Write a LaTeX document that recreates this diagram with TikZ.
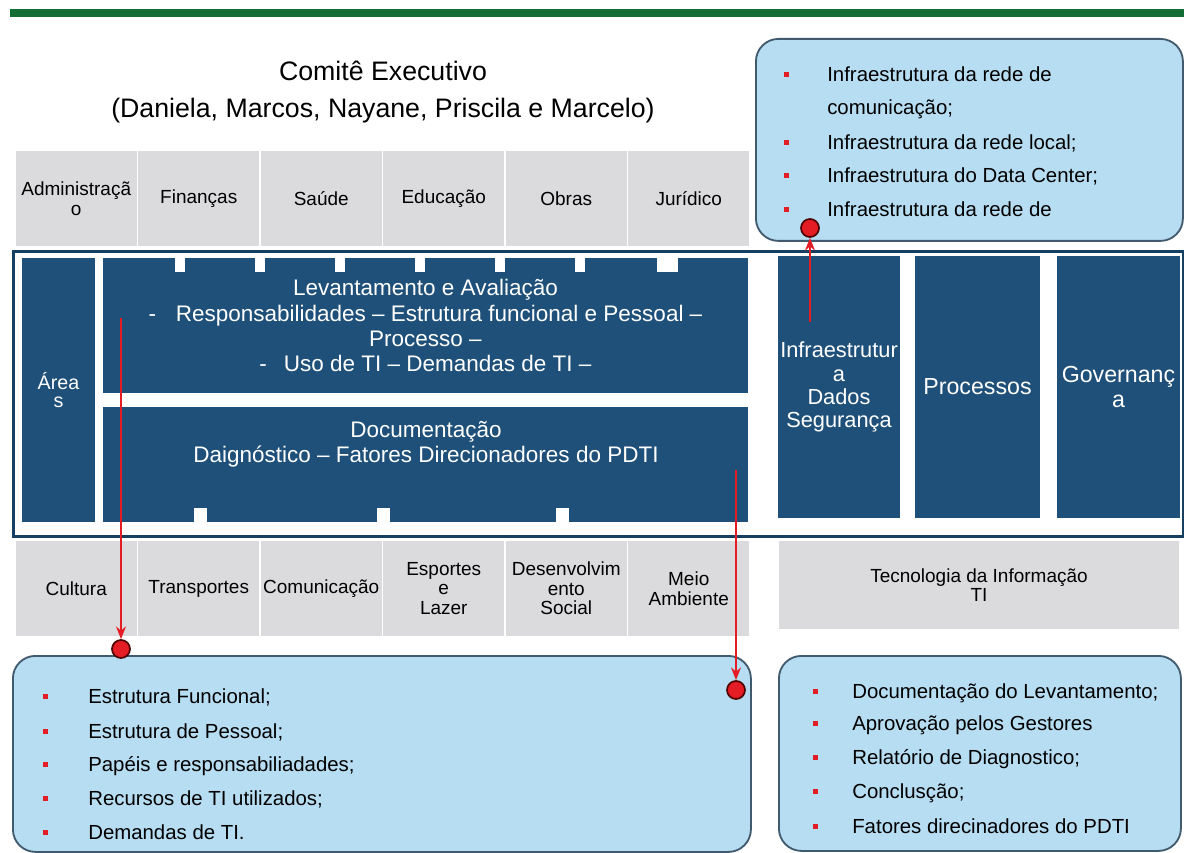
\documentclass[tikz,border=0pt]{standalone}
\usepackage{fontspec}
\setmainfont{Liberation Sans}
\usepackage{tikz}
\usetikzlibrary{arrows.meta,positioning,calc}

\definecolor{pdtiBlue}{RGB}{31,80,121}
\definecolor{frameBlue}{RGB}{22,64,98}
\definecolor{cellGray}{RGB}{219,219,221}
\definecolor{noteBlue}{RGB}{183,221,242}
\definecolor{noteEdge}{RGB}{66,90,110}
\definecolor{topGreen}{RGB}{18,110,52}
\definecolor{markRed}{RGB}{228,28,36}

\newcommand{\pxu}{0.025cm}

\tikzset{
  >=Stealth,
  every node/.append style={font=\fontsize{13.5}{14}\selectfont},
}
\tikzset{
  area/.style={draw=white, line width=1pt, fill=cellGray, outer sep=0pt, align=center,
               inner sep=1pt, minimum width=122.5*\pxu, minimum height=97*\pxu},
  blk/.style={fill=pdtiBlue, text=white, align=center, inner sep=0pt, outer sep=0pt,
              font=\fontsize{16}{17.8}\selectfont},
  notch/.style={fill=white, inner sep=0pt, minimum height=14*\pxu, anchor=north}
}

\begin{document}
\begin{tikzpicture}[
  x=\pxu, y=-\pxu,
  moldura/.style={draw=frameBlue, line width=2.2pt, inner sep=0pt},
  note/.style   ={draw=noteEdge, fill=noteBlue, line width=1.3pt, rounded corners=16pt,
                  inner sep=0pt},
  bullet/.style ={fill=markRed, minimum size=5*\pxu, inner sep=0pt},
  item/.style   ={anchor=base west, inner sep=0pt, font=\fontsize{14.5}{16}\selectfont},
  link/.style   ={-{Stealth[length=9pt,width=7pt]}, draw=markRed, line width=1.6pt},
  hub/.style    ={circle, fill=markRed, draw=red!30!black, line width=1.2pt,
                  minimum size=18*\pxu, inner sep=0pt}
]

\useasboundingbox (0,0) rectangle (1184,853);
\fill[topGreen] (10,9) rectangle (1184,17);

\node[align=center, font=\fontsize{19}{26.3}\selectfont] (comite) at (383,92)
  {Comitê Executivo\\(Daniela, Marcos, Nayane, Priscila e Marcelo)};

% secretarias (top row)
\node[area, anchor=north west] (adm) at (15,150) {Administraçã\\o};
\node[area, right=0pt of adm] (fin) {Finanças};
\node[area, right=0pt of fin] (sau) {Saúde};
\node[area, right=0pt of sau] (edu) {Educação};
\node[area, right=0pt of edu] (obr) {Obras};
\node[area, right=0pt of obr] (jur) {Jurídico};

% secretarias (bottom row)
\node[area, anchor=north west] (cul) at (15,540) {Cultura};
\node[area, right=0pt of cul] (tra) {Transportes};
\node[area, right=0pt of tra] (com) {Comunicação};
\node[area, right=0pt of com] (esp) {Esportes\\e\\Lazer};
\node[area, right=0pt of esp] (des) {Desenvolvim\\ento\\Social};
\node[area, right=0pt of des] (mei) {Meio\\Ambiente};
\node[area, anchor=north west, minimum width=402*\pxu, minimum height=90*\pxu] (ti) at (778,540)
  {Tecnologia da Informação\\TI};

% frame
\node[moldura, anchor=north west, minimum width=1170*\pxu, minimum height=285*\pxu] (frame) at (12,250) {};

\node[blk, anchor=north west, minimum width=73*\pxu, minimum height=264*\pxu,
      font=\fontsize{14}{13}\selectfont] (areas) at (22,258) {Área\\s};
\node[blk, anchor=north west, minimum width=645*\pxu, minimum height=135*\pxu] (lev) at (103,258)
  {Levantamento e Avaliação\\
   -\hspace{14pt}Responsabilidades – Estrutura funcional e Pessoal –\\
   Processo –\\
   -\hspace{12pt}Uso de TI  – Demandas de TI  –};
\foreach \x in {180,260,340,420,500,580}
  \node[notch, minimum width=10*\pxu] (nt\x) at (\x,258) {};
\node[notch, minimum width=21*\pxu] (nt667) at (667,258) {};

\node[blk, anchor=north west, minimum width=645*\pxu, minimum height=115*\pxu] (doc) at (103,407) {};
\node[blk, fill=none] (docTxt) at (426,444) {Documentação\\Daignóstico – Fatores Direcionadores do PDTI};
\foreach \x in {200,383,562}
  \node[notch, minimum width=13*\pxu] (nb\x) at (\x,508) {};

\node[blk, anchor=north west, minimum width=122*\pxu, minimum height=262*\pxu,
      font=\fontsize{15.5}{16.4}\selectfont] (infra) at (778,256) {Infraestrutur\\a\\Dados\\Segurança};
\node[blk, anchor=north west, minimum width=125*\pxu, minimum height=262*\pxu,
      font=\fontsize{16.5}{17.5}\selectfont] (proc) at (915,256) {Processos};
\node[blk, anchor=north west, minimum width=123*\pxu, minimum height=262*\pxu,
      font=\fontsize{16.5}{17.8}\selectfont] (gov) at (1057,256) {Governanç\\a};

% notes
\node[note, anchor=north west, minimum width=427*\pxu, minimum height=202*\pxu] (notaInfra) at (755,38) {};
\node[note, anchor=north west, minimum width=738*\pxu, minimum height=196*\pxu] (notaLev) at (12,655) {};
\node[note, anchor=north west, minimum width=402*\pxu, minimum height=195*\pxu] (notaDoc) at (778,655) {};

\foreach \y/\txt [count=\i] in {82/{Infraestrutura da rede de},115/{comunicação;},
    150/{Infraestrutura da rede local;},183/{Infraestrutura do Data Center;},217/{Infraestrutura da rede de}}
  \node[item] (infraItem\i) at (827,\y) {\txt};
\foreach \y in {82,150,183,217}
  \node[bullet] (infraB\y) at (786,\y-7) {};

\foreach \y/\txt [count=\i] in {703/{Estrutura Funcional;},738/{Estrutura de Pessoal;},
    771/{Papéis e responsabiliadades;},805/{Recursos de TI utilizados;},839/{Demandas de TI.}}{
  \node[item] (levItem\i) at (88,\y) {\txt};
  \node[bullet] (levB\i) at (45,\y-7) {};
}

\foreach \y/\txt [count=\i] in {698/{Documentação do Levantamento;},730/{Aprovação pelos Gestores},
    764/{Relatório de Diagnostico;},798/{Conclusção;},833/{Fatores direcinadores do PDTI}}{
  \node[item] (docItem\i) at (852,\y) {\txt};
  \node[bullet] (docB\i) at (815,\y-7) {};
}

% links
\node[hub] (hubLev) at (121,649) {};
\node[hub] (hubDoc) at (736,690) {};
\node[hub] (hubInfra) at (810,228) {};
\coordinate (fromLev) at (121,318);
\coordinate (fromDoc) at (736,470);
\coordinate (fromInfra) at (810,322);
\foreach \a/\b in {fromLev/hubLev, fromDoc/hubDoc, fromInfra/hubInfra}{
  \draw[link] (\a) -- (\b);
}

\end{tikzpicture}
\end{document}
